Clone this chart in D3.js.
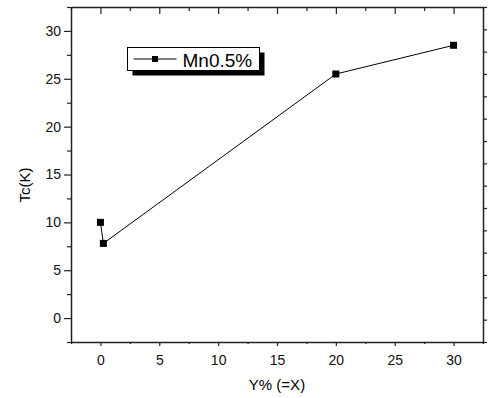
<!DOCTYPE html>
<html lang="en">
<head>
    <meta charset="UTF-8">
    <title>Tc vs Y%</title>
    <style>
        body { margin: 0; background: #fff; }
        svg { display: block; font-family: "Liberation Sans", Arial, sans-serif; }
        .axis path, .axis line { stroke: #222; }
        .axis path { stroke-width: 1.5; }
        .axis line { stroke-width: 1.2; }
        .axis text { font-size: 14px; fill: #111; }
    </style>
</head>
<body>
<svg id="svg" width="493" height="398"></svg>

<script src="https://cdn.jsdelivr.net/npm/d3@7/dist/d3.min.js"></script>
<script>
    // data
    var xVals = [0, 0.25, 20, 30];
    var yVals = [10, 7.8, 25.5, 28.5];
    var seriesName = "Mn0.5%";
    var xMajor = [0, 5, 10, 15, 20, 25, 30];
    var xMinor = [-2.5, 2.5, 7.5, 12.5, 17.5, 22.5, 27.5, 32.5];
    var yMajor = [0, 5, 10, 15, 20, 25, 30];
    var yMinor = [-2.5, 2.5, 7.5, 12.5, 17.5, 22.5, 27.5, 32.5];
    var rightTicks = d3.range(0, 16);

    var pLeft = 71, pRight = 483, pTop = 7, pBottom = 342;

    var svg = d3.select("#svg");

    var x = d3.scaleLinear().domain([-2.5, 32.5]).range([pLeft, pRight]);
    var y = d3.scaleLinear().domain([-2.5, 32.5]).range([pBottom, pTop]);
    var yRight = d3.scaleLinear().domain([0, 15]).range([pBottom, pTop]);

    // bottom axis
    svg.append("g").attr("class", "axis")
        .attr("transform", "translate(0," + pBottom + ")")
        .call(d3.axisBottom(x).tickValues(xMajor).tickSizeInner(4).tickSizeOuter(0).tickPadding(6))
        .call(function (g) { g.selectAll("text").attr("dy", "0.9em"); });
    svg.append("g").attr("class", "axis")
        .attr("transform", "translate(0," + pBottom + ")")
        .call(d3.axisBottom(x).tickValues(xMinor).tickSize(2).tickFormat(""))
        .call(function (g) { g.select(".domain").remove(); });

    // top axis, ticks inside
    svg.append("g").attr("class", "axis")
        .attr("transform", "translate(0," + pTop + ")")
        .call(d3.axisTop(x).tickValues(xMajor).tickSizeInner(-7).tickSizeOuter(0).tickFormat(""));
    svg.append("g").attr("class", "axis")
        .attr("transform", "translate(0," + pTop + ")")
        .call(d3.axisTop(x).tickValues(xMinor).tickSize(-4).tickFormat(""))
        .call(function (g) { g.select(".domain").remove(); });

    // left axis
    svg.append("g").attr("class", "axis")
        .attr("transform", "translate(" + pLeft + ",0)")
        .call(d3.axisLeft(y).tickValues(yMajor).tickSizeInner(7).tickSizeOuter(0).tickPadding(3));
    svg.append("g").attr("class", "axis")
        .attr("transform", "translate(" + pLeft + ",0)")
        .call(d3.axisLeft(y).tickValues(yMinor).tickSize(4).tickFormat(""))
        .call(function (g) { g.select(".domain").remove(); });

    // right axis
    svg.append("g").attr("class", "axis")
        .attr("transform", "translate(" + pRight + ",0)")
        .call(d3.axisRight(yRight).tickValues(rightTicks).tickSizeInner(4).tickSizeOuter(0).tickFormat(""));

    // data line
    var pts = xVals.map(function (d, i) { return [d, yVals[i]]; });
    svg.append("path")
        .datum(pts)
        .attr("fill", "none")
        .attr("stroke", "#000")
        .attr("stroke-width", 1)
        .attr("d", d3.line().x(function (d) { return x(d[0]); }).y(function (d) { return y(d[1]); }));

    svg.selectAll("rect.pt")
        .data(pts)
        .enter().append("rect")
        .attr("class", "pt")
        .attr("x", function (d) { return x(d[0]) - 3.5; })
        .attr("y", function (d) { return y(d[1]) - 3.5; })
        .attr("width", 7)
        .attr("height", 7)
        .attr("fill", "#000");

    // legend
    var lg = svg.append("g").attr("transform", "translate(127.5,47.5)");
    lg.append("rect").attr("x", 5).attr("y", 5).attr("width", 132).attr("height", 23).attr("fill", "#000");
    lg.append("rect").attr("x", 0).attr("y", 0).attr("width", 132).attr("height", 23)
        .attr("fill", "#fff").attr("stroke", "#000").attr("stroke-width", 1);
    lg.append("line").attr("x1", 6).attr("x2", 49).attr("y1", 11.5).attr("y2", 11.5)
        .attr("stroke", "#000").attr("stroke-width", 1);
    lg.append("rect").attr("x", 24.5).attr("y", 8.5).attr("width", 6).attr("height", 6).attr("fill", "#000");
    lg.append("text").attr("x", 55).attr("y", 19).attr("font-size", "19px").attr("fill", "#000")
        .text(seriesName);

    // axis titles
    svg.append("text")
        .attr("x", (pLeft + pRight) / 2)
        .attr("y", 390)
        .attr("text-anchor", "middle")
        .attr("font-size", "15px")
        .text("Y% (=X)");
    svg.append("text")
        .attr("transform", "translate(30,185) rotate(-90)")
        .attr("text-anchor", "middle")
        .attr("font-size", "15px")
        .text("Tc(K)");
</script>
</body>
</html>
